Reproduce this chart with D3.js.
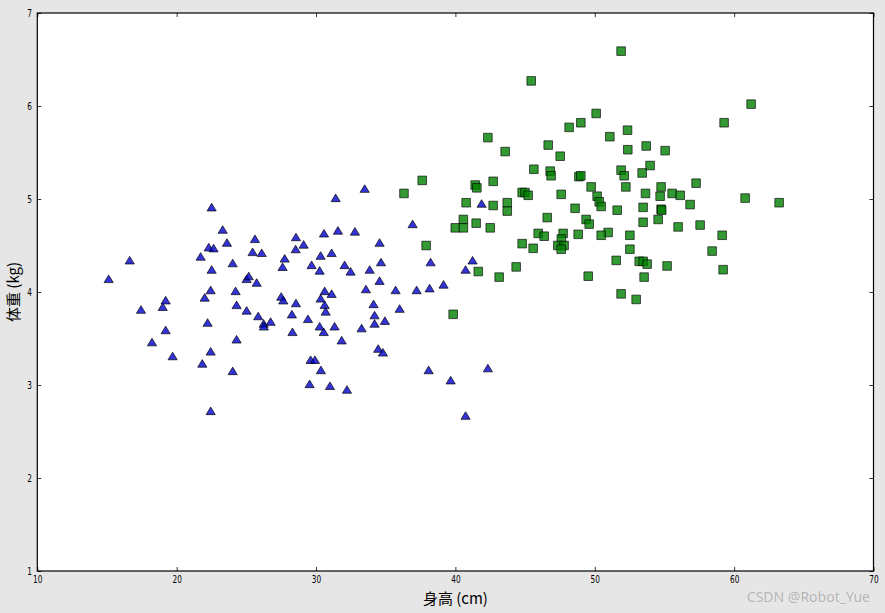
<!DOCTYPE html>
<html>
<head>
<meta charset="utf-8">
<script src="https://cdn.jsdelivr.net/npm/d3@7"></script>
<style>
html,body{margin:0;padding:0;background:#e6e6e6;}
svg{display:block;}
.tick text{font-family:"Liberation Sans Narrow","DejaVu Sans Condensed","Roboto Condensed","DejaVu Sans",sans-serif;}
</style>
</head>
<body>
<svg id="chart" width="885" height="613"></svg>
<script>
// Blue group (triangles): height (cm), weight (kg)
const blueX = [15.12,16.63,17.44,18.23,19.00,19.21,19.21,19.71,21.72,21.84,22.01,22.22,22.30,22.44,22.44,22.44,22.51,22.51,22.65,23.30,
23.61,24.02,24.02,24.23,24.30,24.30,25.02,25.02,25.17,25.45,25.62,25.74,25.85,26.10,26.24,26.26,26.74,27.50,27.60,27.65,
27.75,28.27,28.31,28.56,28.54,28.56,29.11,29.42,29.54,29.61,29.68,29.92,30.26,30.26,30.33,30.33,30.35,30.55,30.57,30.62,
30.62,30.69,31.00,31.12,31.12,31.33,31.41,31.57,31.84,32.05,32.22,32.48,32.79,33.27,33.49,33.58,33.85,34.13,34.20,34.20,
34.46,34.56,34.56,34.66,34.80,34.94,35.71,36.00,36.93,37.22,38.08,38.15,38.22,39.15,39.66,40.73,40.73,41.23,41.88,42.33];
const blueY = [4.14,4.34,3.81,3.46,3.84,3.91,3.59,3.31,4.38,3.23,3.94,3.67,4.48,4.02,3.36,2.72,4.91,4.24,4.47,4.67,
4.53,4.31,3.15,4.01,3.86,3.49,4.14,3.80,4.17,4.43,4.57,4.10,3.74,4.42,3.66,3.63,3.68,3.95,4.27,3.91,
4.36,3.76,3.57,4.59,4.46,3.88,4.51,3.71,3.01,3.27,4.29,3.27,4.23,3.63,4.39,3.93,3.16,3.57,4.63,4.01,
3.86,3.79,2.99,4.42,3.98,3.63,5.01,4.66,3.48,4.29,2.95,4.22,4.65,3.61,5.11,4.03,4.24,3.87,3.75,3.66,
3.39,4.53,4.12,4.32,3.35,3.69,4.02,3.82,4.73,4.02,3.16,4.04,4.32,4.08,3.05,4.24,2.67,4.34,4.95,3.18];

// Green group (squares)
const greenX = [45.44,51.89,61.22,50.10,49.00,48.16,59.28,52.35,51.08,42.33,46.66,52.37,53.69,55.05,43.57,47.52,53.97,45.63,51.89,46.80,
53.40,46.87,48.86,49.00,52.11,37.62,42.71,57.27,41.42,41.54,49.74,52.23,54.76,44.79,44.99,36.31,53.64,47.59,45.22,50.17,
54.69,55.55,56.13,60.79,40.77,43.72,50.32,63.23,42.71,50.46,56.84,53.47,48.59,54.76,51.61,43.72,46.59,40.57,49.38,54.55,
53.47,41.49,49.60,55.98,57.56,39.99,40.57,42.50,50.96,45.94,47.73,48.81,50.46,52.52,59.14,46.37,47.60,44.79,37.90,47.35,
47.80,45.58,47.59,52.52,58.42,51.54,53.19,53.47,53.76,55.19,44.36,59.21,41.64,49.53,43.14,53.54,51.89,52.97,39.84,54.80];
const greenY = [6.27,6.59,6.02,5.92,5.82,5.77,5.82,5.74,5.67,5.66,5.58,5.53,5.57,5.52,5.51,5.46,5.36,5.32,5.31,5.30,
5.28,5.25,5.24,5.25,5.25,5.20,5.19,5.17,5.15,5.12,5.13,5.13,5.13,5.07,5.07,5.06,5.06,5.05,5.04,5.03,
5.03,5.06,5.04,5.01,4.96,4.96,4.97,4.96,4.93,4.92,4.94,4.91,4.90,4.89,4.88,4.87,4.80,4.78,4.78,4.78,
4.75,4.74,4.73,4.70,4.72,4.69,4.69,4.69,4.64,4.63,4.63,4.62,4.61,4.61,4.61,4.60,4.57,4.52,4.50,4.50,
4.50,4.47,4.46,4.46,4.44,4.34,4.33,4.33,4.30,4.28,4.27,4.24,4.22,4.17,4.16,4.16,3.98,3.92,3.76,4.88];

const xTicks = [10,20,30,40,50,60,70];
const yTicks = [1,2,3,4,5,6,7];
const xLabel = "身高 (cm)";
const yLabel = "体重 (kg)";
const watermark = "CSDN @Robot_Yue";

const svg = d3.select("#chart");
const L = 37.3, R = 873.5, T = 13, B = 571;

const x = d3.scaleLinear().domain([10,70]).range([L,R]);
const y = d3.scaleLinear().domain([1,7]).range([B,T]);

svg.append("rect").attr("x",L).attr("y",T).attr("width",R-L).attr("height",B-T).attr("fill","#fff");

function styleAxis(g){
  g.select(".domain").remove();
  g.selectAll(".tick line").attr("stroke","#000").attr("stroke-width",0.8);
  g.selectAll(".tick text").attr("font-size",10.5).attr("fill","#000");
}
// bottom
svg.append("g").attr("transform",`translate(0,${B})`)
  .call(d3.axisBottom(x).tickValues(xTicks).tickSize(-4).tickPadding(5).tickFormat(d3.format("d")))
  .call(styleAxis)
  .selectAll(".tick text").attr("transform","scale(0.78,1)");
// top
svg.append("g").attr("transform",`translate(0,${T})`)
  .call(d3.axisTop(x).tickValues(xTicks).tickSize(-4).tickFormat(""))
  .call(styleAxis);
// left
svg.append("g").attr("transform",`translate(${L},0)`)
  .call(d3.axisLeft(y).tickValues(yTicks).tickSize(-4).tickPadding(7).tickFormat(d3.format("d")))
  .call(styleAxis)
  .selectAll(".tick text").attr("transform","scale(0.78,1)");
// right
svg.append("g").attr("transform",`translate(${R},0)`)
  .call(d3.axisRight(y).tickValues(yTicks).tickSize(-4).tickFormat(""))
  .call(styleAxis);

// markers
const tri = "M0,-4L4.6,3.6L-4.6,3.6Z";
const sq = "M-4.3,-4.3H4.3V4.3H-4.3Z";
const blue = blueX.map((v,i)=>({x:v,y:blueY[i]}));
const green = greenX.map((v,i)=>({x:v,y:greenY[i]}));

svg.append("g").selectAll("path").data(blue).join("path")
  .attr("d",tri)
  .attr("transform",d=>`translate(${x(d.x)},${y(d.y)})`)
  .attr("fill","#0000cc").attr("fill-opacity",0.8)
  .attr("stroke","#000").attr("stroke-opacity",0.85).attr("stroke-width",0.8);

svg.append("g").selectAll("path").data(green).join("path")
  .attr("d",sq)
  .attr("transform",d=>`translate(${x(d.x)},${y(d.y)})`)
  .attr("fill","#008000").attr("fill-opacity",0.8)
  .attr("stroke","#000").attr("stroke-opacity",0.8).attr("stroke-width",0.8);

// frame
svg.append("rect").attr("x",L).attr("y",T).attr("width",R-L).attr("height",B-T)
  .attr("fill","none").attr("stroke","#000").attr("stroke-width",1.2);

// labels
const cjk = '"Noto Sans CJK SC","Noto Sans",sans-serif';
svg.append("text").attr("x",(L+R)/2).attr("y",604).attr("text-anchor","middle")
  .attr("font-family",cjk).attr("font-size",15).attr("fill","#000").text(xLabel);
svg.append("text").attr("transform",`translate(19,${(T+B)/2}) rotate(-90)`).attr("text-anchor","middle")
  .attr("font-family",cjk).attr("font-size",15).attr("fill","#000").text(yLabel);

svg.append("text").attr("x",870).attr("y",602).attr("text-anchor","end")
  .attr("font-family",'"Noto Sans",sans-serif').attr("font-size",14)
  .attr("fill","#b4b4b4").attr("stroke","#f4f4f4").attr("stroke-width",0.6).attr("paint-order","stroke")
  .text(watermark);
</script>
</body>
</html>
